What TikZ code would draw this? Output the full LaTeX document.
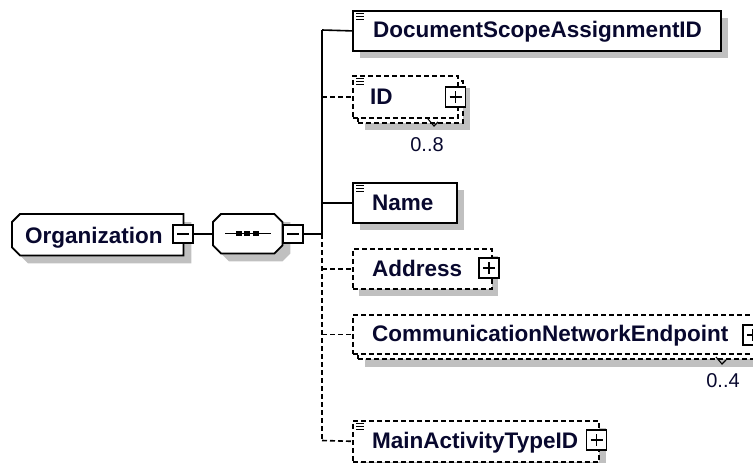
\documentclass[tikz,border=0pt]{standalone}
\usepackage{fontspec}
\setmainfont{Liberation Sans}
\definecolor{shadowgray}{RGB}{192,192,192}
\definecolor{navytext}{HTML}{08082E}
\newcommand{\eqicon}[1]{%
  \draw[line width=1.1pt] ([xshift=4pt,yshift=-3.5pt]#1.north west) -- ++(8,0)
    ([xshift=4pt,yshift=-6.5pt]#1.north west) -- ++(8,0)
    ([xshift=4pt,yshift=-9.5pt]#1.north west) -- ++(8,0);}
\begin{document}
\begin{tikzpicture}[x=1pt,y=-1pt,
  elbox/.style={draw=black, line width=1.8pt, fill=white, inner sep=0pt, anchor=north west},
  dsh/.style={dash pattern=on 5pt off 3pt},
  optbox/.style={elbox, line width=1.6pt, dsh},
  shbox/.style={fill=shadowgray, draw=none, inner sep=0pt, anchor=north west},
  lbl/.style={font=\bfseries\fontsize{22.5}{26}\selectfont, text=navytext, anchor=base west, inner sep=0pt},
  mult/.style={font=\fontsize{20}{24}\selectfont, text=navytext, anchor=base, inner sep=0pt},
  conn/.style={line width=1.6pt},
  expandbox/.style={draw=black, fill=white, line width=1.5pt, minimum width=20pt, minimum height=20pt, inner sep=0pt,
    path picture={\draw[line width=1.5pt] ([xshift=4pt]path picture bounding box.west) -- ([xshift=-4pt]path picture bounding box.east)
      ([yshift=-4pt]path picture bounding box.north) -- ([yshift=4pt]path picture bounding box.south);}},
  collapsebox/.style={draw=black, fill=white, line width=1.5pt, minimum width=20pt, minimum height=18pt, inner sep=0pt,
    path picture={\draw[line width=1.5pt] ([xshift=4pt]path picture bounding box.west) -- ([xshift=-4pt]path picture bounding box.east);}},
  anchorbox/.style={inner sep=0pt, anchor=north west, draw=none}
]
\useasboundingbox (0,0) rectangle (753,463);

% ---------- Organization ----------
\node[anchorbox, minimum width=171pt, minimum height=41pt] (org) at (12,214) {};
\fill[shadowgray] ([xshift=16pt,yshift=-8pt]org.north west) -- ([xshift=8pt,yshift=-8pt]org.north east) -- ([xshift=8pt,yshift=-8pt]org.south east)
  -- ([xshift=16pt,yshift=-8pt]org.south west) -- ([xshift=8pt,yshift=0pt]org.south west) -- cycle;
\draw[line width=1.8pt, fill=white] ([xshift=8pt]org.north west) -- (org.north east) -- (org.south east) -- ([xshift=8pt]org.south west)
  -- ([yshift=8pt]org.south west) -- ([yshift=-8pt]org.north west) -- cycle;
\node[lbl] (orgtxt) at (25,243) {Organization};
\node[collapsebox] (orgc) at (183,234) {};

% ---------- Sequence compositor ----------
\node[anchorbox, minimum width=69pt, minimum height=39pt] (seq) at (213,214) {};
\fill[shadowgray] ([xshift=16pt,yshift=-8pt]seq.north west) -- ([xshift=8pt,yshift=-8pt]seq.north east) -- ([xshift=8pt,yshift=-16pt]seq.north east)
  -- ([xshift=8pt,yshift=0pt]seq.south east) -- ([xshift=0pt,yshift=-8pt]seq.south east) -- ([xshift=16pt,yshift=-8pt]seq.south west) -- ([xshift=8pt]seq.south west) -- cycle;
\draw[line width=1.8pt, fill=white] ([xshift=8pt]seq.north west) -- ([xshift=-8pt]seq.north east) -- ([yshift=-8pt]seq.north east)
  -- ([yshift=8pt]seq.south east) -- ([xshift=-8pt]seq.south east) -- ([xshift=8pt]seq.south west)
  -- ([yshift=8pt]seq.south west) -- ([yshift=-8pt]seq.north west) -- cycle;
\draw[line width=1.5pt] (225,233.5) -- (271,233.5);
\foreach \dx in {235.5,244,252.5} \fill (\dx,231) rectangle ++(6,5);
\node[collapsebox] (seqc) at (293,234) {};

\draw[conn] (orgc.east) -- (seq.west |- orgc.east);
\coordinate (busmid) at (322,234);
\coordinate (bustop) at (322,30);
\coordinate (busbot) at (322,440.5);
\draw[conn] (seqc.east) -- (busmid);
\draw[conn] (bustop) -- (busmid);
\draw[conn, dsh] (busmid) -- (busbot);

% ---------- DocumentScopeAssignmentID ----------
\node[shbox, minimum width=368pt, minimum height=40pt] at (360,18) {};
\node[elbox, minimum width=368pt, minimum height=40pt] (dsa) at (352,10) {};
\eqicon{dsa}
\node[lbl] at (373,37.5) {DocumentScopeAssignmentID};
\draw[conn] (bustop) -- (dsa.west);

% ---------- ID (0..8) ----------
\node[shbox, minimum width=105pt, minimum height=42pt] at (365,88) {};
\node[optbox, minimum width=105pt, minimum height=42pt] (idback) at (357,80) {};
\node[optbox, minimum width=105pt, minimum height=42pt] (id) at (352,75) {};
\eqicon{id}
\node[lbl] at (370,104) {ID};
\node[expandbox] (idx) at (455.5,97) {};
\draw[conn, dsh] (bustop |- id.west) -- (id.west);
\draw[line width=1.1pt] (428,119) -- (434,126) -- (438,122);
\node[mult] at (427,151) {0..8};

% ---------- Name ----------
\node[shbox, minimum width=104pt, minimum height=40pt] at (360,190) {};
\node[elbox, minimum width=104pt, minimum height=40pt] (name) at (352,182) {};
\eqicon{name}
\node[lbl] at (372,210) {Name};
\draw[conn] (bustop |- name.west) -- (name.west);

% ---------- Address ----------
\node[shbox, minimum width=139pt, minimum height=40pt] at (359,256) {};
\node[optbox, minimum width=139pt, minimum height=40pt] (addr) at (352,248) {};
\node[lbl] at (372,276) {Address};
\node[expandbox] (addrx) at (489,268) {};
\draw[conn, dsh] (bustop |- addr.west) -- (addr.west);

% ---------- CommunicationNetworkEndpoint (0..4) ----------
\node[shbox, minimum width=403pt, minimum height=39pt] at (365,328) {};
\node[optbox, minimum width=403pt, minimum height=39pt] (cneback) at (357,319) {};
\node[optbox, minimum width=403pt, minimum height=39pt] (cne) at (352,314) {};
\node[lbl] at (372,341.5) {CommunicationNetworkEndpoint};
\node[expandbox] (cnex) at (753,335) {};
\draw[conn, dsh] (bustop |- cne.west) -- (cne.west);
\draw[line width=1.1pt] (716,357) -- (722,364) -- (726,360);
\node[mult] at (723,387) {0..4};

% ---------- MainActivityTypeID ----------
\node[shbox, minimum width=246pt, minimum height=41pt] at (360,428) {};
\node[optbox, minimum width=246pt, minimum height=41pt] (mat) at (352,420) {};
\eqicon{mat}
\node[lbl] at (372,448.5) {MainActivityTypeID};
\node[expandbox] (matx) at (596.5,440) {};
\draw[conn, dsh] (busbot) -- (mat.west);
\end{tikzpicture}
\end{document}
